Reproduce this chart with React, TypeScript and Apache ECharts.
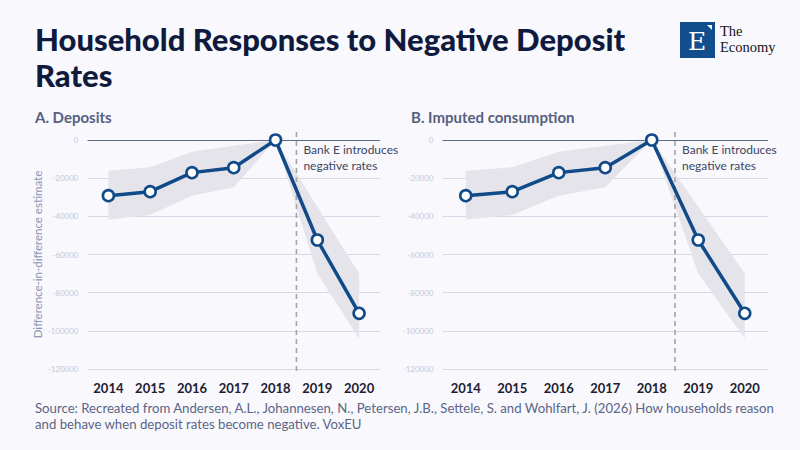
import React, { useEffect, useRef } from "react";
import * as echarts from "echarts";

const years = ["2014", "2015", "2016", "2017", "2018", "2019", "2020"];
const depositsEst = [-29200, -27100, -17100, -14500, 0, -52400, -90800];
const depositsUpper = [-16100, -14300, -6100, -3000, 0, -35000, -70000];
const depositsLower = [-41600, -39300, -29200, -24800, 0, -70000, -104000];
const consumptionEst = [-29200, -27100, -17100, -14500, 0, -52400, -90800];
const consumptionUpper = [-16100, -14300, -6100, -3000, 0, -35000, -70000];
const consumptionLower = [-41600, -39300, -29200, -24800, 0, -70000, -104000];
const policyIndex = 4.5;
const policyLineSpan = [4200, -123000];
const yTicks = { min: -120000, max: 0, interval: 20000 };

const FONT = "Lato, 'Noto Sans', sans-serif";
const NAVY = "#114a88";
const BAND = "#e4e4ea";

function panelSeries(idx: number, est: number[], upper: number[], lower: number[]) {
  const diff = upper.map((u, i) => u - lower[i]);
  const stack = "band" + idx;
  return [
    {
      type: "line",
      xAxisIndex: idx,
      yAxisIndex: idx,
      data: lower,
      stack,
      stackStrategy: "all",
      symbol: "none",
      lineStyle: { opacity: 0 },
      silent: true,
      z: 1,
    },
    {
      type: "line",
      xAxisIndex: idx,
      yAxisIndex: idx,
      data: diff,
      stack,
      stackStrategy: "all",
      symbol: "none",
      lineStyle: { opacity: 0 },
      areaStyle: { color: BAND, opacity: 1 },
      silent: true,
      z: 1,
    },
    {
      type: "line",
      xAxisIndex: idx + 2,
      yAxisIndex: idx,
      data: [
        [policyIndex, policyLineSpan[0]],
        [policyIndex, policyLineSpan[1]],
      ],
      symbol: "none",
      clip: false,
      lineStyle: { color: "#a3a3a8", width: 1.6, type: [5, 4] },
      silent: true,
      z: 2,
      markPoint: {
        symbol: "circle",
        symbolSize: 0,
        silent: true,
        data: [{ coord: [policyIndex, 0] }],
        label: {
          show: true,
          position: [7, 1],
          align: "left",
          verticalAlign: "top",
          formatter: "Bank E introduces\nnegative rates",
          fontFamily: FONT,
          fontSize: 12,
          lineHeight: 16,
          color: "#3d4662",
        },
      },
    },
    {
      type: "line",
      xAxisIndex: idx,
      yAxisIndex: idx,
      data: est,
      symbol: "circle",
      symbolSize: 11,
      lineStyle: { color: NAVY, width: 3.5 },
      itemStyle: { color: "#ffffff", borderColor: NAVY, borderWidth: 2.6 },
      z: 5,
      markLine: {
        silent: true,
        symbol: ["none", "none"],
        label: { show: false },
        lineStyle: { color: "#5e6c8c", width: 1, type: "solid" },
        data: [{ yAxis: 0 }],
        z: 0,
      },
    },
  ];
}

export default function App() {
  const ref = useRef<HTMLDivElement>(null);
  useEffect(() => {
    document.body.style.margin = "0";
    const chart = echarts.init(ref.current!, null, { renderer: "svg" });
    const catAxis = (gi: number) => ({
      type: "category",
      gridIndex: gi,
      data: years,
      boundaryGap: true,
      axisLine: { show: false },
      axisTick: { show: false },
      axisLabel: {
        margin: 12,
        fontFamily: FONT,
        fontSize: 13,
        fontWeight: "bold",
        color: "#1d2030",
      },
    });
    const valX = (gi: number) => ({
      type: "value",
      gridIndex: gi,
      min: -0.5,
      max: 6.5,
      show: false,
    });
    const yAxis = (gi: number, withName: boolean) => ({
      type: "value",
      gridIndex: gi,
      min: yTicks.min,
      max: yTicks.max,
      interval: yTicks.interval,
      name: withName ? "Difference-in-difference estimate" : "",
      nameLocation: "middle",
      nameGap: 41,
      nameTextStyle: { fontFamily: FONT, fontSize: 11.5, color: "#8c95b2" },
      axisLine: { show: false },
      axisTick: { show: false },
      axisLabel: {
        margin: 9,
        fontFamily: FONT,
        fontSize: 8,
        color: "#c3cadb",
        formatter: (v: number) => String(v),
      },
      splitLine: { lineStyle: { color: "#d3dae7", width: 1 } },
    });
    chart.setOption({
      animation: false,
      backgroundColor: "#f8f8fd",
      grid: [
        { left: 87.5, width: 292.5, top: 140, height: 229 },
        { left: 442.5, width: 325.5, top: 140, height: 229 },
      ],
      xAxis: [catAxis(0), catAxis(1), valX(0), valX(1)],
      yAxis: [yAxis(0, true), yAxis(1, false)],
      series: [
        ...panelSeries(0, depositsEst, depositsUpper, depositsLower),
        ...panelSeries(1, consumptionEst, consumptionUpper, consumptionLower),
      ],
      graphic: [
        {
          type: "text",
          left: 35,
          top: 21,
          style: {
            text: "Household Responses to Negative Deposit\nRates",
            fontFamily: FONT,
            fontSize: 31,
            fontWeight: 900,
            lineHeight: 36,
            fill: "#0f1a3d",
          },
        },
        {
          type: "text",
          left: 35,
          top: 109,
          style: { text: "A. Deposits", fontFamily: FONT, fontSize: 15, fontWeight: "bold", fill: "#56607f" },
        },
        {
          type: "text",
          left: 411,
          top: 109,
          style: { text: "B. Imputed consumption", fontFamily: FONT, fontSize: 15, fontWeight: "bold", fill: "#56607f" },
        },
        {
          type: "text",
          left: 35,
          top: 400,
          style: {
            text:
              "Source: Recreated from Andersen, A.L., Johannesen, N., Petersen, J.B., Settele, S. and Wohlfart, J. (2026) How households reason\nand behave when deposit rates become negative. VoxEU",
            fontFamily: FONT,
            fontSize: 13.2,
            lineHeight: 16,
            fill: "#5b6686",
          },
        },
        { type: "rect", shape: { x: 680, y: 22, width: 35, height: 36 }, style: { fill: "#124e8d" } },
        {
          type: "text",
          x: 697,
          y: 41,
          style: {
            text: "E",
            fontFamily: "'DejaVu Serif', 'Liberation Serif', serif",
            fontSize: 25,
            fill: "#ffffff",
            align: "center",
            verticalAlign: "middle",
          },
        },
        { type: "polygon", shape: { points: [[707, 25], [712, 25], [712, 30]] }, style: { fill: "#ffffff" } },
        {
          type: "text",
          x: 720,
          y: 23,
          style: {
            text: "The\nEconomy",
            fontFamily: "'Liberation Serif', 'DejaVu Serif', serif",
            fontSize: 14.5,
            lineHeight: 16,
            fill: "#15151c",
          },
        },
      ],
    });
    return () => chart.dispose();
  }, []);
  return <div ref={ref} style={{ width: 800, height: 450 }} />;
}
